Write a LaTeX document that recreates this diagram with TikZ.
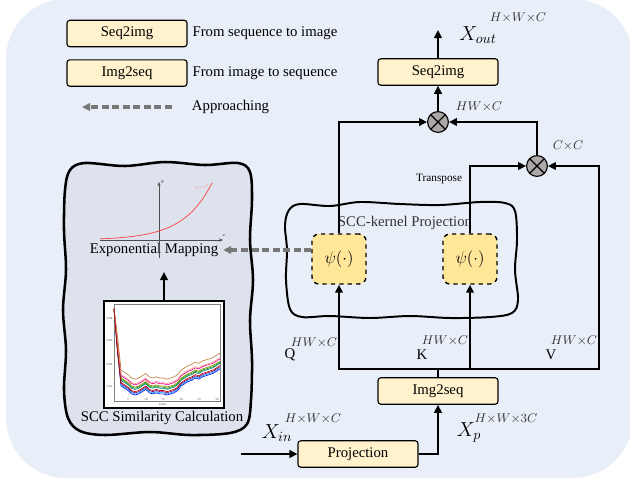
\documentclass[tikz,border=0pt]{standalone}
\usepackage{amsmath}
\usepackage{fontspec}
\setmainfont{Liberation Serif}
\usepackage{tikz}
\usetikzlibrary{arrows.meta, shapes, positioning, calc}
\usepackage{xcolor}
\definecolor{fondbleu}{RGB}{233,239,248}
\definecolor{panneaugris}{RGB}{222,226,236}
\definecolor{jaunepale}{RGB}{255,242,204}
\definecolor{jaunepsi}{RGB}{255,230,153}
\definecolor{grismult}{RGB}{172,168,168}
\definecolor{grisfleche}{RGB}{120,120,120}

\tikzstyle{jaune} = [rectangle, rounded corners = 2pt, minimum width = 3cm, minimum height = 0.66cm, text centered, draw = black, line width = 0.8pt, fill = jaunepale]
\tikzstyle{psi} = [rectangle, rounded corners = 5pt, minimum width = 1.35cm, minimum height = 1.25cm, draw = black, dashed, line width = 1pt, fill = jaunepsi, font = \fontsize{11.5}{13}\selectfont]
\tikzstyle{mult} = [circle, minimum size = 0.52cm, inner sep = 0pt, draw = black, line width = 0.8pt, fill = grismult,
  path picture = {\draw[line width = 0.8pt] (path picture bounding box.north west) -- (path picture bounding box.south east)
                                         (path picture bounding box.north east) -- (path picture bounding box.south west);}]
\tikzstyle{dims} = [text = black!80, inner sep = 1pt, font = \fontsize{9}{10}\selectfont]
\tikzstyle{minus} = [inner sep = 0pt, text = black!70, font = \tiny, scale = 0.45]
\tikzstyle{trait} = [line width = 1.7pt]
\tikzstyle{fleche} = [trait, ->]
\tikzstyle{approche} = [draw = grisfleche, line width = 2.2pt, dash pattern = on 5pt off 2.5pt, ->]
\tikzstyle{panneau} = [fill = panneaugris, draw = black, line width = 1.8pt]
\tikzstyle{noyau} = [draw = black, line width = 1.4pt]
\tikzstyle{axe} = [black!70, line width = 0.4pt, -{Stealth[length = 1mm, width = 0.8mm]}]

\begin{document}
\begin{tikzpicture}[x = 0.025cm, y = -0.025cm, font = \fontsize{10.5}{12}\selectfont, >={Triangle[length = 2mm, width = 1.9mm]}]

\useasboundingbox (0,0) rectangle (630,482);
\fill[fondbleu, rounded corners = 1.5cm] (6,-1) rectangle (633,478);

% legende
\node (1) [jaune] at (127,33.5) {Seq2img};
\node (2) [right = 0pt of 1] {From sequence to image};
\node (3) [jaune, below = 0.3cm of 1] {Img2seq};
\node (4) [right = 0pt of 3] {From image to sequence};
\node (5) [anchor = west] at (187,107) {Approaching};
\coordinate (5a) at (172,107);
\coordinate (5b) at (82,107);
\draw[approche] (5a) -- (5b);

% panneau de gauche
\draw[panneau] plot[smooth cycle, tension = 0.55] coordinates {
  (85,163) (125,166) (165,162) (205,165) (238,163) (250,172) (252,200) (250,240) (253,280)
  (250,320) (252,360) (251,400) (247,424) (230,433) (190,435) (150,432) (105,435) (80,431)
  (68,418) (64,390) (66,350) (63,310) (66,270) (64,230) (65,190) (70,170)};

\node (34) at (154,250) {Exponential Mapping};
\draw[axe] (100,240) -- (223,240);
\draw[axe] (159,258) -- (159,182);
\draw[red!75, line width = 0.5pt] plot[domain = -2.05:1.85, samples = 40] ({159+28.7*\x},{240-9*exp(\x)});
\node (35) [minus, text = black, scale = 1.3] at (162.5,182) {$y$};
\node (36) [minus, text = black, scale = 1.3] at (224,236) {$x$};
\node (37) [minus, text = red!70] at (202,187) {$y=e^x$};

\node (38) [draw, fill = white, line width = 1.6pt, minimum width = 3cm, minimum height = 2.675cm] at (164,354.5) {};
\draw[black!50, line width = 0.3pt] (114,304) rectangle (220,401);
\foreach \v/\y in {0.08/318, 0.06/340, 0.04/364, 0.02/386}
  \node[minus, anchor = east] at (112.5,\y) {\v};
\foreach \i/\x in {5/128, 10/146, 15/163, 20/181, 25/199, 30/217}
  \node[minus] at (\x,399) {\i};
\node[minus] at (163,404) {Index};
\begin{scope}[shift = {(110.47,408.66)}, x = 0.08825cm, y = 0.02833cm, line width = 0.45pt]
  \foreach \c/\d in {blue/0, cyan/1, violet/2, red!75!black/3, teal/5, green!60!black/6, olive/7, magenta/9, pink!80!red/10, brown/14}
    \draw[\c] (1,88) \foreach \i/\v in {2/50, 3/20, 4/18, 5/16, 6/13, 7/12, 8/13, 9/15, 10/17, 11/14, 12/13, 13/14, 14/13,
      15/13, 16/12, 17/13, 18/14, 19/16, 20/20, 21/22, 22/24, 23/25, 24/27, 25/26, 26/28, 27/29, 28/30, 29/31, 30/33, 31/35}
      { -- (\i,{\v+\d}) };
  \draw[red!70!black] (1,88) -- (2,50) -- (3,22);
\end{scope}
\coordinate (39) at (164,272);
\draw[fleche] (38) -- (39);
\node (40) at (162,418) {SCC Similarity Calculation};

% projection noyau SCC
\draw[noyau] plot[smooth cycle, tension = 0.55] coordinates {
  (300,204) (330,206) (360,202) (400,204) (440,205) (480,202) (505,203) (515,211) (517,240)
  (515,270) (518,300) (512,313) (490,317) (450,318) (410,316) (370,318) (330,316) (302,317)
  (290,309) (286,280) (287,250) (285,225) (289,210)};
\node (17) [text = black!80] at (405,223) {SCC-kernel Projection};

% branche de droite
\node (6) [jaune] at (438,72) {Seq2img};
\coordinate (7) at (438,30);
\node (8) at (478,35) {\Large $X_{out}$};
\node (9) [dims] at (518,18) {$H{\times}W{\times}C$};
\node (10) [mult] at (438,122) {};
\node (11) [mult] at (537,166) {};
\node (12) [psi] at (339,259) {$\psi(\cdot)$};
\node (13) [psi] at (470,259) {$\psi(\cdot)$};
\node (14) [dims] at (479,107) {$HW{\times}C$};
\node (15) [dims] at (568,146) {$C{\times}C$};
\node (16) [anchor = east, font = \fontsize{8}{9}\selectfont] at (467,179) {Transpose};

\node (18) [jaune] at (438,391) {Img2seq};
\node (19) [jaune] at (358,454) {Projection};
\coordinate (20) at (241,454);
\coordinate (21) at (339,369);
\coordinate (22) at (470,369);
\coordinate (23) at (599,369);

\node (24) at (290,355) {Q};
\node (25) [dims] at (314,343) {$HW{\times}C$};
\node (26) at (422,355) {K};
\node (27) [dims] at (445,341) {$HW{\times}C$};
\node (28) at (551,355) {V};
\node (29) [dims] at (574,341) {$HW{\times}C$};
\node (30) at (277,433) {\Large $X_{in}$};
\node (31) [dims] at (313,419) {$H{\times}W{\times}C$};
\node (32) at (469,432) {\Large $X_p$};
\node (33) [dims] at (506,419) {$H{\times}W{\times}3C$};

\draw[fleche] (6) -- (7);
\draw[fleche] (10) -- (6);
\draw[fleche] (12) |- (10);
\draw[fleche] (11) |- (10);
\draw[fleche] (13) |- (11);
\draw[fleche] (23) |- (11);

\draw[trait, line cap = rect] (21) -- (23);
\draw[fleche] (21) -- (12);
\draw[fleche] (22) -- (13);
\draw[trait] (18) -- (18 |- 21);
\draw[fleche] (20) -- (19);
\draw[fleche] (19) -| (18);

\draw[approche] (12.west |- 34.east) -- (34.east);

\end{tikzpicture}
\end{document}
